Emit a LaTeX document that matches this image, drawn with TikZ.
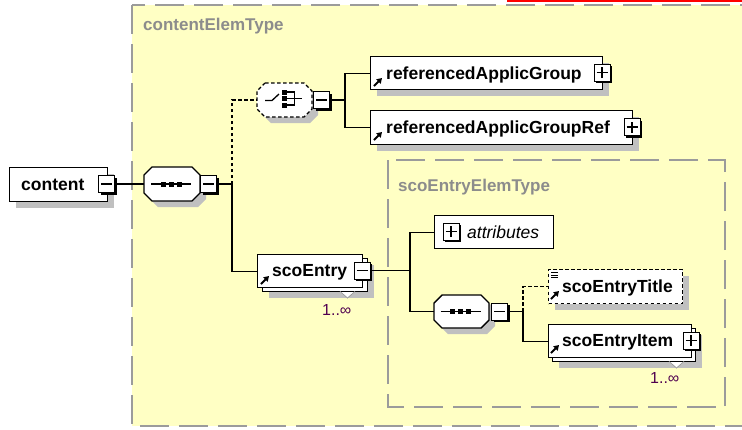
\documentclass[tikz,border=0pt]{standalone}
\usepackage{fontspec}
\setmainfont{Liberation Sans}
\usetikzlibrary{arrows.meta,shadows}
\definecolor{bgyel}{RGB}{255,255,196}
\definecolor{dgrey}{RGB}{155,155,155}
\definecolor{lblgrey}{RGB}{140,140,140}
\definecolor{shadowc}{RGB}{192,192,192}
\definecolor{occc}{RGB}{80,0,80}
\newcommand{\octo}[5]{\path[#1] (#2+8,#3) -- (#4-8,#3) -- (#4,#3+8) -- (#4,#5-8) -- (#4-8,#5) -- (#2+8,#5) -- (#2,#5-8) -- (#2,#3+8) -- cycle;}
\newcommand{\minusbox}[3]{\node[pm] (#1) at (#2,#3) {};\draw[pmsign] ([xshift=-5.5pt]#1.center) -- ([xshift=5.5pt]#1.center);}
\newcommand{\plusbox}[3]{\minusbox{#1}{#2}{#3}\draw[pmsign] ([yshift=-5.5pt]#1.center) -- ([yshift=5.5pt]#1.center);}
\newcommand{\seqicon}[2]{\draw[line width=1.3pt] (#1-20,#2) -- (#1+20,#2);
  \fill (#1-10.5,#2-2.5) rectangle (#1-5.5,#2+2.5);
  \fill (#1-2.5,#2-2.5) rectangle (#1+2.5,#2+2.5);
  \fill (#1+5.5,#2-2.5) rectangle (#1+10.5,#2+2.5);}
\newcommand{\refarrow}[2]{\draw[refic] (#1,#2) -- (#1+8,#2-8);}
\begin{document}
\begin{tikzpicture}[x=1pt,y=-1pt,
  typebox/.style={draw=dgrey, fill=bgyel, line width=2pt, dash pattern=on 29pt off 10pt},
  typelbl/.style={font=\fontsize{17}{20}\selectfont\bfseries, text=lblgrey, inner sep=0pt},
  elemns/.style={draw=black, fill=white, line width=1.4pt, anchor=north west, inner sep=0pt},
  elem/.style={elemns, drop shadow={shadow xshift=6pt, shadow yshift=-6pt, fill=shadowc, opacity=1}},
  elemdash/.style={elem, dash pattern=on 3.5pt off 2.5pt},
  etext/.style={font=\fontsize{17.5}{20}\selectfont\bfseries, inner sep=0pt},
  atext/.style={font=\fontsize{17.5}{20}\selectfont\itshape, inner sep=0pt},
  occ/.style={font=\fontsize{16}{18}\selectfont, text=occc, inner sep=0pt},
  pm/.style={draw=black, fill=white, line width=1pt, minimum width=16pt, minimum height=17pt, inner sep=0pt,
    drop shadow={shadow xshift=2pt, shadow yshift=-2pt, fill=black, opacity=1}},
  pmsign/.style={line width=1.3pt},
  octfill/.style={fill=white, draw=black, line width=1.4pt},
  octshadow/.style={fill=shadowc, shift={(6,6)}},
  anchorbox/.style={inner sep=0pt, draw=none},
  conn/.style={draw=black, line width=1.4pt},
  conndash/.style={conn, dash pattern=on 3.5pt off 2.5pt},
  refic/.style={line width=1.9pt, -{Triangle[length=5pt, width=6pt]}},
  tri/.style={fill=white, draw=dgrey, line width=0.8pt}
]
\useasboundingbox (0,0) rectangle (742,429);
\clip (0,0) rectangle (742,429);
\fill[white] (0,0) rectangle (742,429);

% type boxes
\draw[typebox] (132,5) rectangle (790,426);
\node[typelbl, anchor=base west] (lblCET) at (143,30) {contentElemType};
\draw[red, line width=1.5pt] (508,-5) -- (508,1) -- (790,1);
\draw[typebox] (388,160) rectangle (725,407);
\node[typelbl, anchor=base west] (lblSET) at (398,191) {scoEntryElemType};

% content
\node[elem, minimum width=98pt, minimum height=34pt] (content) at (9,167) {};
\node[etext, anchor=base west] (contentT) at (21,190) {content};
\minusbox{contentM}{106.5}{184}

% sequence 1
\octo{octshadow}{144}{167}{200}{201}
\octo{octfill}{144}{167}{200}{201}
\node[anchorbox, minimum width=56pt, minimum height=34pt] (seq1) at (172,184) {};
\seqicon{171}{184}
\minusbox{seq1M}{208.5}{184}

% choice
\octo{octshadow}{257}{83}{312}{117}
\octo{octfill, dash pattern=on 3.5pt off 2.5pt}{257}{83}{312}{117}
\node[anchorbox, minimum width=55pt, minimum height=34pt] (choice) at (284.5,100) {};
\draw[line width=1.3pt] (265,100.5) -- (272,100.5) -- (279,94);
\fill (282,89.5) rectangle (287,94.5);
\fill (282,96) rectangle (287,101);
\fill (282,102.5) rectangle (287,107.5);
\draw[line width=1.3pt] (287,92) -- (294.5,92) -- (294.5,105) -- (287,105);
\draw[line width=1.3pt] (287,98.5) -- (302,98.5);
\minusbox{choiceM}{321.5}{100}

% referencedApplicGroup
\node[elem, minimum width=232pt, minimum height=33pt] (refAG) at (370,56) {};
\node[etext, anchor=base west] (refAGT) at (386,79) {referencedApplicGroup};
\refarrow{374}{86}
\plusbox{refAGP}{602}{72.5}

% referencedApplicGroupRef
\node[elem, minimum width=262pt, minimum height=34pt] (refAGR) at (370,110) {};
\node[etext, anchor=base west] (refAGRT) at (386,133) {referencedApplicGroupRef};
\refarrow{374}{140}
\plusbox{refAGRP}{632}{127}

% scoEntry
\node[elem, minimum width=105pt, minimum height=33pt] (scoEntryB) at (262,258) {};
\node[elemns, minimum width=105pt, minimum height=33pt] (scoEntry) at (257,254) {};
\node[etext, anchor=base west] (scoEntryT) at (272,276.5) {scoEntry};
\refarrow{261}{284}
\minusbox{scoEntryM}{362}{270.5}
\path[fill=white] (340,292) -- (355,292) -- (347.5,298) -- cycle;
\draw[draw=dgrey, line width=0.8pt] (340,291.5) -- (347.5,298) -- (355,291.5);
\node[occ, anchor=base west] (scoEntryOcc) at (322,315) {1..∞};

% attributes
\node[elemns, minimum width=119pt, minimum height=33pt] (attr) at (434,215) {};
\plusbox{attrP}{451}{231.5}
\node[atext, anchor=base west] (attrT) at (467,238) {attributes};

% sequence 2
\octo{octshadow}{434}{295}{489}{328}
\octo{octfill}{434}{295}{489}{328}
\node[anchorbox, minimum width=55pt, minimum height=33pt] (seq2) at (461.5,311.5) {};
\seqicon{460.5}{311.5}
\minusbox{seq2M}{499.5}{311.5}

% scoEntryTitle
\node[elemdash, minimum width=134pt, minimum height=34pt] (sET) at (548,269) {};
\node[etext, anchor=base west] (sETT) at (562,292.5) {scoEntryTitle};
\draw[line width=0.9pt] (551,272.5) -- (558,272.5) (551,275) -- (558,275) (551,277.5) -- (558,277.5);
\refarrow{551}{299}

% scoEntryItem
\node[elem, minimum width=143pt, minimum height=33pt] (sEIB) at (552,328) {};
\node[elemns, minimum width=143pt, minimum height=33pt] (sEI) at (548,324) {};
\node[etext, anchor=base west] (sEIT) at (562,346.5) {scoEntryItem};
\refarrow{551}{353}
\plusbox{sEIP}{691}{340.5}
\path[fill=white] (669,362) -- (684,362) -- (676.5,368) -- cycle;
\draw[draw=dgrey, line width=0.8pt] (669,361.5) -- (676.5,368) -- (684,361.5);
\node[occ, anchor=base west] (sEIOcc) at (650,383) {1..∞};

% connectors
\coordinate (j1) at (232,184);
\coordinate (j2) at (345,100);
\coordinate (j3) at (410,270.5);
\coordinate (j4) at (523,311.5);
\draw[conn] (contentM.east) -- (seq1.west);
\draw[conn] (seq1M.east) -- (j1) |- (scoEntry.west);
\draw[conndash] (j1) |- (choice.west);
\draw[conn] (choiceM.east) -- (j2) |- (refAG.west);
\draw[conn] (j2) |- (refAGR.west);
\draw[conn] (scoEntryM.east) -- (j3) |- (attr.west);
\draw[conn] (j3) |- (seq2.west);
\draw[conn] (seq2M.east) -- (j4) |- (sEI.west);
\draw[conndash] (j4) |- (sET.west);
\end{tikzpicture}
\end{document}
